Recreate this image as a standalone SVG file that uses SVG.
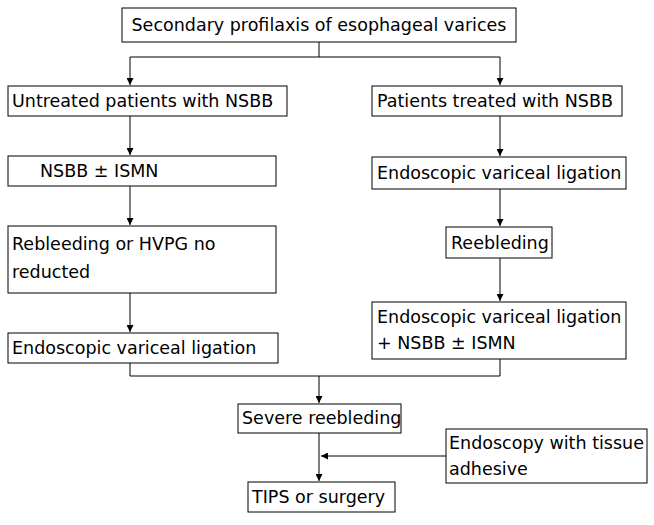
<svg xmlns="http://www.w3.org/2000/svg" width="654" height="525" viewBox="0 0 654 525">
<defs>
<marker id="a" viewBox="0 0 10 10" refX="10" refY="5" markerWidth="7" markerHeight="7" orient="auto"><path d="M0,0 L10,5 L0,10 z" fill="#000"/></marker>
<style>
rect{fill:#fff;stroke:#000;stroke-width:1}
text{font-family:"DejaVu Sans",Verdana,sans-serif;font-size:17.5px;fill:#000}
.c line,.c path{stroke:#000;stroke-width:1;fill:none}
</style>
</defs>
<rect x="0" y="0" width="654" height="525" style="stroke:none"/>
<g class="c">
<path d="M319,42 V57 M130,57 H500"/>
<line x1="130" y1="57" x2="130" y2="85" marker-end="url(#a)"/>
<line x1="500" y1="57" x2="500" y2="85" marker-end="url(#a)"/>
<line x1="130" y1="116" x2="130" y2="155" marker-end="url(#a)"/>
<line x1="500" y1="116" x2="500" y2="156" marker-end="url(#a)"/>
<line x1="130" y1="186" x2="130" y2="225" marker-end="url(#a)"/>
<line x1="500" y1="189" x2="500" y2="226" marker-end="url(#a)"/>
<line x1="500" y1="258" x2="500" y2="301" marker-end="url(#a)"/>
<line x1="130" y1="293" x2="130" y2="332" marker-end="url(#a)"/>
<path d="M130,363 V376 H500 V359"/>
<line x1="319" y1="376" x2="319" y2="403" marker-end="url(#a)"/>
<line x1="319" y1="433" x2="319" y2="481" marker-end="url(#a)"/>
<line x1="446" y1="456" x2="321" y2="456" marker-end="url(#a)"/>
</g>
<g id="n0"><rect x="122" y="8" width="394" height="34"/><text x="319" y="31" text-anchor="middle">Secondary profilaxis of esophageal varices</text></g>
<g id="n1"><rect x="8" y="86" width="279" height="30"/><text x="12" y="107">Untreated patients with NSBB</text></g>
<g id="n2"><rect x="372" y="86" width="250" height="30"/><text x="377" y="107">Patients treated with NSBB</text></g>
<g id="n3"><rect x="8" y="156" width="268" height="30"/><text x="40" y="177">NSBB ± ISMN</text></g>
<g id="n4"><rect x="372" y="157" width="254" height="32"/><text x="377" y="179">Endoscopic variceal ligation</text></g>
<g id="n5"><rect x="8" y="226" width="268" height="67"/><text x="12" y="250">Rebleeding or HVPG no</text><text x="12" y="278">reducted</text></g>
<g id="n6"><rect x="446" y="227" width="106" height="31"/><text x="451" y="249">Reebleding</text></g>
<g id="n7"><rect x="372" y="302" width="254" height="57"/><text x="377" y="323">Endoscopic variceal ligation</text><text x="377" y="349">+ NSBB ± ISMN</text></g>
<g id="n8"><rect x="8" y="333" width="270" height="30"/><text x="12" y="354">Endoscopic variceal ligation</text></g>
<g id="n9"><rect x="238" y="404" width="163" height="29"/><text x="242" y="424">Severe reebleding</text></g>
<g id="n10"><rect x="446" y="429" width="201" height="54"/><text x="449" y="449">Endoscopy with tissue</text><text x="449" y="475">adhesive</text></g>
<g id="n11"><rect x="248" y="482" width="147" height="30"/><text x="252" y="503">TIPS or surgery</text></g>
</svg>
